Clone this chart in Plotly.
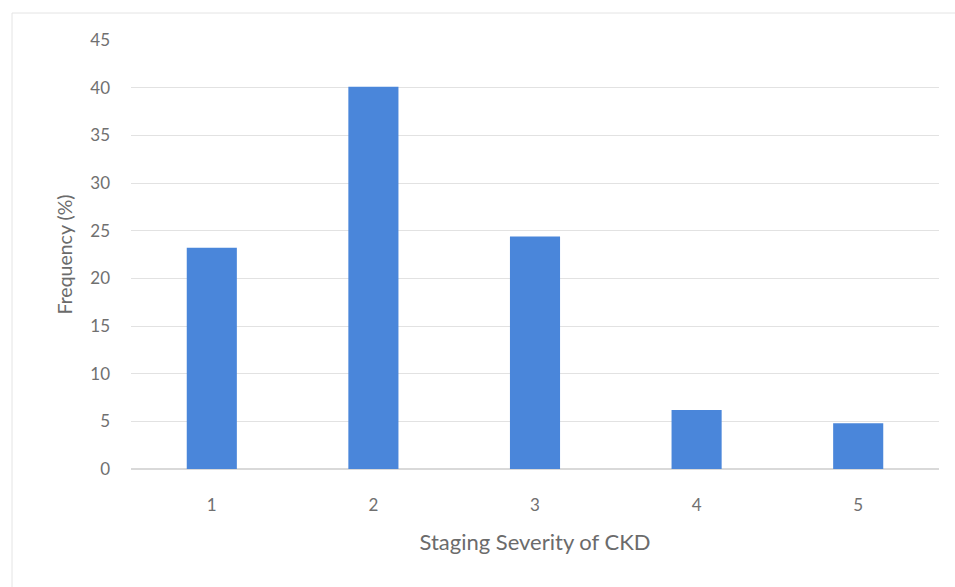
import plotly.graph_objects as go

stages = ["1", "2", "3", "4", "5"]
frequency = [23.2, 40.1, 24.4, 6.2, 4.8]
y_ticks = [0, 5, 10, 15, 20, 25, 30, 35, 40, 45]

fig = go.Figure()
fig.add_trace(go.Bar(x=stages, y=frequency, marker=dict(color="#4A86DA", line=dict(width=0))))

fig.update_layout(
    width=955, height=587,
    margin=dict(l=131, r=16, t=40, b=118),
    paper_bgcolor="white", plot_bgcolor="white",
    bargap=0.69,
    showlegend=False,
    font=dict(family="Lato, Open Sans, sans-serif", color="#666666"),
    shapes=[dict(type="rect", xref="paper", yref="paper",
                 x0=-119/808, x1=1.03, y0=-0.30, y1=1 + 27/429,
                 line=dict(color="#E4E4E4", width=1), layer="below")],
)
fig.update_yaxes(
    range=[0, 45], tickvals=y_ticks, showgrid=True, gridcolor="#E2E2E2", gridwidth=1,
    zeroline=True, zerolinecolor="#D9D9D9", showline=False,
    tickfont=dict(size=17, color="#707070"), ticks="", ticklen=0, ticklabelstandoff=20,
    title=dict(text="Frequency (%)", font=dict(size=19.5, color="#6B6B6B"), standoff=12),
)
fig.update_xaxes(
    showgrid=False, showline=False, ticks="", ticklabelstandoff=24,
    tickfont=dict(size=17, color="#707070"),
    title=dict(text="Staging Severity of CKD", font=dict(size=22, color="#6B6B6B"), standoff=20),
)
fig.write_html("out.html")
